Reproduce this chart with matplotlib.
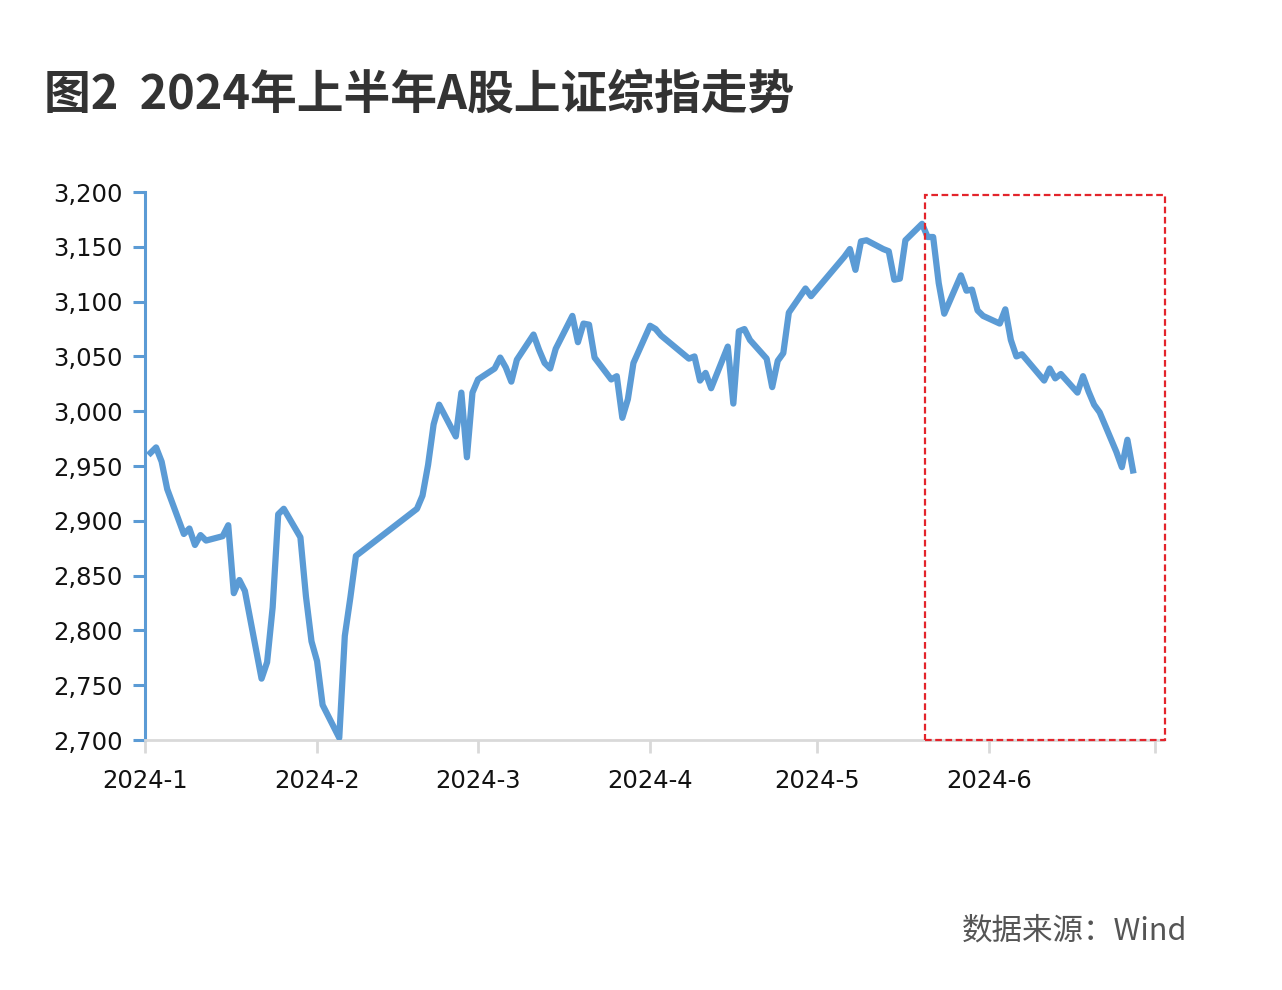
import pandas as pd
import matplotlib
matplotlib.use('Agg')
import matplotlib.pyplot as plt
import matplotlib.dates as mdates
from matplotlib.patches import Rectangle
from matplotlib.ticker import FuncFormatter, MultipleLocator

plt.rcParams['font.family'] = ['DejaVu Sans']

# trading days and closing values of the index, H1 2024
jan_days = [2, 3, 4, 5, 8, 9, 10, 11, 12, 15, 16, 17, 18, 19, 22, 23, 24, 25, 26, 29, 30, 31]
jan_vals = [2962, 2967, 2954, 2929, 2888, 2893, 2878, 2887, 2882, 2886, 2896, 2834, 2846, 2836,
            2756, 2771, 2821, 2906, 2911, 2885, 2831, 2790]
feb_days = [1, 2, 5, 6, 7, 8, 19, 20, 21, 22, 23, 26, 27, 28, 29]
feb_vals = [2772, 2732, 2702, 2795, 2830, 2868, 2911, 2923, 2951, 2988, 3006, 2977, 3017, 2958, 3017]
mar_days = [1, 4, 5, 6, 7, 8, 11, 12, 13, 14, 15, 18, 19, 20, 21, 22, 25, 26, 27, 28, 29]
mar_vals = [3029, 3039, 3049, 3040, 3027, 3047, 3070, 3056, 3044, 3039, 3057, 3087, 3063, 3080,
            3079, 3049, 3029, 3032, 2994, 3011, 3044]
apr_days = [1, 2, 3, 8, 9, 10, 11, 12, 15, 16, 17, 18, 19, 22, 23, 24, 25, 26, 29, 30]
apr_vals = [3078, 3075, 3069, 3048, 3050, 3028, 3035, 3021, 3059, 3007, 3073, 3075, 3065, 3048,
            3022, 3046, 3053, 3090, 3112, 3105]
may_days = [6, 7, 8, 9, 10, 13, 14, 15, 16, 17, 20, 21, 22, 23, 24, 27, 28, 29, 30, 31]
may_vals = [3141, 3148, 3129, 3155, 3156, 3148, 3146, 3120, 3121, 3156, 3171, 3159, 3159, 3117,
            3089, 3124, 3110, 3111, 3092, 3087]
jun_days = [3, 4, 5, 6, 7, 11, 12, 13, 14, 17, 18, 19, 20, 21, 24, 25, 26, 27]
jun_vals = [3080, 3093, 3065, 3050, 3052, 3028, 3039, 3030, 3034, 3017, 3032, 3018, 3006, 2999,
            2963, 2949, 2974, 2946]

month_labels = ['2024-1', '2024-2', '2024-3', '2024-4', '2024-5', '2024-6', '']

dates = []
values = []
for m, (d, v) in enumerate([(jan_days, jan_vals), (feb_days, feb_vals), (mar_days, mar_vals),
                            (apr_days, apr_vals), (may_days, may_vals), (jun_days, jun_vals)], start=1):
    dates += [pd.Timestamp(2024, m, day) for day in d]
    values += v

df = pd.DataFrame({'date': dates, 'close': values})

BLUE = '#5B9BD5'

fig = plt.figure(figsize=(12.82, 9.9), dpi=100)
ax = fig.add_axes([0.1131, 0.2525, 0.7941, 0.5535])

ax.plot(df['date'], df['close'], color=BLUE, lw=4.5, solid_joinstyle='round', zorder=3)

ax.set_xlim(pd.Timestamp('2024-01-01'), pd.Timestamp('2024-07-02 10:00'))
ax.set_ylim(2700, 3200)

ax.yaxis.set_major_locator(MultipleLocator(50))
ax.yaxis.set_major_formatter(FuncFormatter(lambda v, p: f'{int(v):,}'))
ticks = pd.date_range('2024-01-01', '2024-07-01', freq='MS')
ax.set_xticks(ticks)
ax.set_xticklabels(month_labels)

for s in ['top', 'right']:
    ax.spines[s].set_visible(False)
ax.spines['left'].set_color(BLUE)
ax.spines['left'].set_linewidth(2.2)
ax.spines['bottom'].set_color('#d9d9d9')
ax.spines['bottom'].set_linewidth(2)

ax.tick_params(axis='y', colors=BLUE, length=9, width=2.2, labelsize=17.5,
               labelcolor='#111111', pad=7)
ax.tick_params(axis='x', colors='#d9d9d9', length=9, width=2, labelsize=17.5,
               labelcolor='#111111', pad=12)

# red dashed highlight box
x0 = mdates.date2num(pd.Timestamp('2024-05-20 14:00'))
x1 = mdates.date2num(pd.Timestamp('2024-07-02 19:00'))
rect = Rectangle((x0, 2700), x1 - x0, 497, fill=False, ec='#e3242b', lw=1.6,
                 ls=(0, (3, 1.6)), clip_on=False, zorder=4)
ax.add_patch(rect)

fig.text(0.034, 0.904, '图2  2024年上半年A股上证综指走势', fontsize=33.7, fontweight='bold',
         color='#333333', family=['Noto Sans CJK SC', 'DejaVu Sans'], va='center', ha='left')
fig.text(0.926, 0.060, '数据来源：Wind', fontsize=22, color='#555555',
         family=['Noto Sans CJK SC', 'DejaVu Sans'], va='center', ha='right')

fig.savefig('out.png', dpi=100, facecolor='white')
